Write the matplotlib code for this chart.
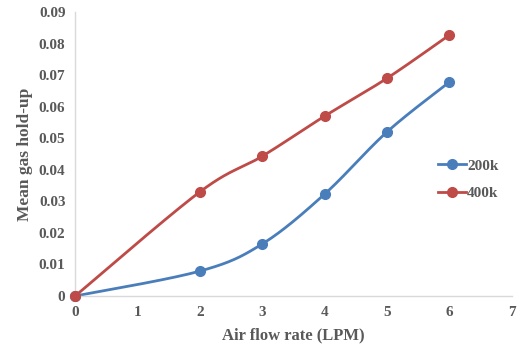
import numpy as np
import matplotlib.pyplot as plt

x = [0, 2, 3, 4, 5, 6]
y_200k = [0.0, 0.0079, 0.0165, 0.0323, 0.052, 0.0678]
y_400k = [0.0, 0.033, 0.0443, 0.057, 0.069, 0.0827]
xticks = [0, 1, 2, 3, 4, 5, 6, 7]
yticks = [0, 0.01, 0.02, 0.03, 0.04, 0.05, 0.06, 0.07, 0.08, 0.09]
ytick_labels = ['0', '0.01', '0.02', '0.03', '0.04', '0.05', '0.06', '0.07', '0.08', '0.09']


def smooth(xs, ys, n=40):
    # excel-like smoothed line (catmull-rom as bezier segments)
    p = np.column_stack([xs, ys]).astype(float)
    p = np.vstack([p[0], p, p[-1]])
    out = []
    t = np.linspace(0, 1, n)[:, None]
    for i in range(1, len(p) - 2):
        p0, p3 = p[i], p[i + 1]
        c1 = p0 + (p[i + 1] - p[i - 1]) / 6
        c2 = p3 - (p[i + 2] - p[i]) / 6
        seg = (1 - t) ** 3 * p0 + 3 * (1 - t) ** 2 * t * c1 + 3 * (1 - t) * t ** 2 * c2 + t ** 3 * p3
        out.append(seg)
    s = np.vstack(out)
    return s[:, 0], s[:, 1]


plt.rcParams['font.family'] = ['Liberation Serif', 'DejaVu Serif']
plt.rcParams['font.weight'] = 'bold'

fig = plt.figure(figsize=(5.18, 3.52), dpi=100)
ax = fig.add_axes([0.145, 0.159, 0.843, 0.807])

blue = '#4a7ebb'
red = '#be4b48'
for ys, c, lab in [(y_200k, blue, '200k'), (y_400k, red, '400k')]:
    sx, sy = smooth(x, ys)
    ax.plot(sx, sy, color=c, lw=2, solid_capstyle='round', clip_on=False)
    ax.plot(x, ys, 'o', color=c, ms=7, clip_on=False, zorder=3)
    ax.plot([], [], '-o', color=c, lw=2, ms=7, label=lab)

ax.set_xlim(0, 7)
ax.set_ylim(0, 0.09)
ax.set_xticks(xticks)
ax.set_yticks(yticks)
ax.set_yticklabels(ytick_labels)
ax.tick_params(length=0, labelsize=11, labelcolor='#595959', pad=7)
for sp in ['top', 'right']:
    ax.spines[sp].set_visible(False)
for sp in ['left', 'bottom']:
    ax.spines[sp].set_color('#d9d9d9')
    ax.spines[sp].set_linewidth(1)
ax.set_xlabel('Air flow rate (LPM)', fontsize=12, color='#595959', fontweight='bold', labelpad=6)
ax.set_ylabel('Mean gas hold-up', fontsize=12.5, color='#595959', fontweight='bold', labelpad=4)
ax.legend(loc='center left', bbox_to_anchor=(0.80, 0.41), frameon=False, fontsize=11,
          labelcolor='#595959', handlelength=1.8, handletextpad=0.1, labelspacing=0.9)
for t in ax.get_xticklabels() + ax.get_yticklabels():
    t.set_fontweight('bold')
ax.patch.set_alpha(0)

plt.savefig('out.png', dpi=100)
